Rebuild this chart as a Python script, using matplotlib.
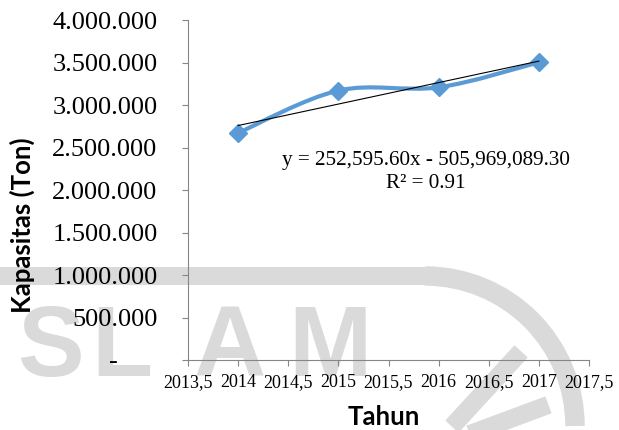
#!/usr/bin/python

"""
    kapasitas (ton) per tahun, with linear trendline
"""

import numpy as np
import matplotlib
matplotlib.use("Agg")
import matplotlib.pyplot as plt
from matplotlib.path import Path
from matplotlib.patches import PathPatch, Arc, Rectangle
from matplotlib.ticker import FuncFormatter

# data
years = [2014, 2015, 2016, 2017]
kapasitas = [2672000, 3170000, 3208000, 3502000]

# trendline as printed on the chart
slope = 252595.60
intercept = -505969089.30
eqText = "y = 252,595.60x - 505,969,089.30"
r2Text = "R\u00b2 = 0.91"

yTicks = [0, 500000, 1000000, 1500000, 2000000, 2500000, 3000000, 3500000, 4000000]
xTicks = [2013.5, 2014, 2014.5, 2015, 2015.5, 2016, 2016.5, 2017, 2017.5]

BLUE = "#5b9bd5"
AXGREY = "#868686"
WMARK = "#dadada"  # watermark grey

W, H = 619, 430

#excel-like smooth line: bezier with catmull-rom control points
def smoothPath(xs, ys):
    pts = np.column_stack([xs, ys]).astype(float)
    n = len(pts)
    verts = [pts[0]]
    codes = [Path.MOVETO]
    for i in range(n - 1):
        p0 = pts[max(i - 1, 0)]
        p1 = pts[i]
        p2 = pts[i + 1]
        p3 = pts[min(i + 2, n - 1)]
        verts += [p1 + (p2 - p0) / 6.0, p2 - (p3 - p1) / 6.0, p2]
        codes += [Path.CURVE4] * 3
    return Path(verts, codes)

def yFmt(v, pos):
    if v == 0:
        return "-      "
    return f"{v:,.0f}".replace(",", ".")

def xFmt(v, pos):
    if v == int(v):
        return str(int(v))
    return f"{v:.1f}".replace(".", ",")

def px(x, y):
    # pixel (from top left) to figure fraction
    return x / W, 1 - y / H

fig = plt.figure(figsize=(W / 100, H / 100), dpi=100)

# watermark behind the chart (scan of the source document)
fig.patches.append(Rectangle(px(0, 285), 425 / W, 18 / H, transform=fig.transFigure,
                             color=WMARK, zorder=-5, lw=0))
# arc of the logo, drawn in pixel space
arcTr = matplotlib.transforms.Affine2D().scale(1, -1).translate(0, H) + \
    matplotlib.transforms.Affine2D().scale(1 / W, 1 / H) + fig.transFigure
fig.patches.append(Arc((425, 426), 300, 300, theta1=270, theta2=360, transform=arcTr,
                       color=WMARK, lw=14, zorder=-5))
for (x0, y0, x1, y1) in [(458, 420, 515, 358), (470, 434, 540, 408)]:
    fig.lines.append(matplotlib.lines.Line2D([x0 / W, x1 / W], [1 - y0 / H, 1 - y1 / H],
                                             transform=fig.transFigure, color=WMARK,
                                             lw=13, zorder=-5))
for letter, lx in [("S", 50), ("L", 122), ("A", 230), ("M", 330)]:
    fig.text(*px(lx, 376), letter, ha="center", va="baseline", fontsize=72,
             fontweight="bold", family="Liberation Sans", color=WMARK, zorder=-5)

ax = fig.add_axes([188 / W, 70 / H, 401 / W, 340 / H])
ax.patch.set_visible(False)

# data line and markers
ax.add_patch(PathPatch(smoothPath(years, kapasitas), fill=False, edgecolor=BLUE,
                       lw=3, capstyle="round", joinstyle="round", zorder=3))
ax.plot(years, kapasitas, linestyle="none", marker="D", markersize=9,
        color=BLUE, zorder=4)

# trendline
tx = np.array([years[0], years[-1]], dtype=float)
ax.plot(tx, slope * tx + intercept, color="black", lw=0.8, zorder=5)

ax.set_xlim(2013.5, 2017.5)
ax.set_ylim(0, 4000000)
ax.set_xticks(xTicks)
ax.set_yticks(yTicks)
ax.xaxis.set_major_formatter(FuncFormatter(xFmt))
ax.yaxis.set_major_formatter(FuncFormatter(yFmt))

for s in ["top", "right"]:
    ax.spines[s].set_visible(False)
for s in ["left", "bottom"]:
    ax.spines[s].set_color(AXGREY)
    ax.spines[s].set_linewidth(0.8)

ax.tick_params(axis="y", direction="out", length=4, width=0.8, color=AXGREY,
               labelsize=19, pad=18)
ax.tick_params(axis="x", direction="out", length=4, width=0.8, color=AXGREY,
               labelsize=13, pad=6)
for lab in ax.get_xticklabels() + ax.get_yticklabels():
    lab.set_family("Liberation Serif")

# equation text
fig.text(*px(426, 160), eqText, ha="center", va="center", fontsize=15.2,
         family="Liberation Serif")
fig.text(*px(426, 183), r2Text, ha="center", va="center", fontsize=15.2,
         family="Liberation Serif")

# axis titles
fig.text(*px(22, 225), "Kapasitas (Ton)", rotation=90, ha="center", va="center",
         fontsize=18.5, fontweight="bold", family="Lato")
fig.text(*px(384, 417), "Tahun", ha="center", va="center",
         fontsize=18.5, fontweight="bold", family="Lato")

fig.savefig("out.png", dpi=100)
